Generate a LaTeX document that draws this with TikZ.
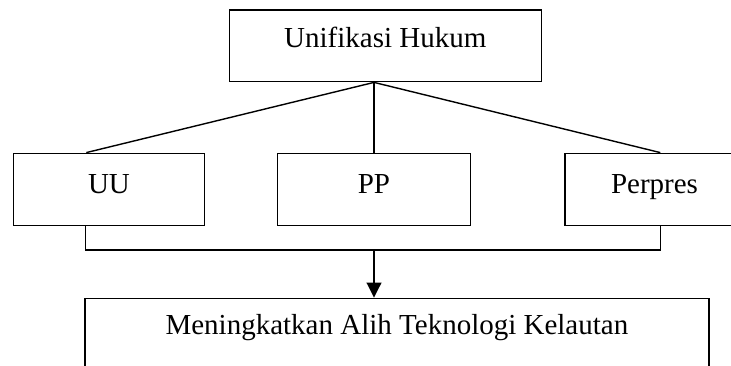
\documentclass[tikz,border=0pt]{standalone}
\usepackage{fontspec}
\setmainfont{Liberation Serif}
\usetikzlibrary{arrows.meta,calc}
\begin{document}
\begin{tikzpicture}[x=1pt,y=-1pt, line width=1.4pt,
  box/.style={draw, rectangle, inner sep=0pt, font=\fontsize{29}{34}\selectfont, text height=20pt},
  arrowline/.style={-{Triangle[length=15pt,width=14.7pt]}}]
\useasboundingbox (0,0) rectangle (731,366);
\node[box, minimum width=312pt, minimum height=71.7pt, text depth=16.3pt] (top) at (385.3,45.85) {Unifikasi Hukum};
\node[box, minimum width=191.4pt, minimum height=72.4pt, text depth=12.4pt] (uu) at (109,189.5) {UU};
\node[box, minimum width=193.4pt, minimum height=72.4pt, text depth=12.4pt] (pp) at (374,189.5) {PP};
\node[box, minimum width=179pt, minimum height=72.4pt, text depth=12.4pt] (perp) at (654.5,189.5) {Perpres};
\node[box, anchor=north, minimum width=624.2pt, minimum height=100pt, text depth=47.4pt] (bot) at (396.9,297.7) {Meningkatkan Alih Teknologi Kelautan};
\coordinate (apex) at (pp.north |- top.south);
\draw (apex) -- (pp.north);
\draw (apex) -- ($(uu.north west)+(73.7,0)$);
\draw (apex) -- ($(perp.north west)+(96,0)$);
\draw ($(uu.south west)+(72.7,0)$) -- ++(0,23.6) -| ($(perp.south west)+(96,0)$);
\draw[arrowline] (pp.south |- 0,249.3) -- (pp.south |- bot.north);
\end{tikzpicture}
\end{document}
